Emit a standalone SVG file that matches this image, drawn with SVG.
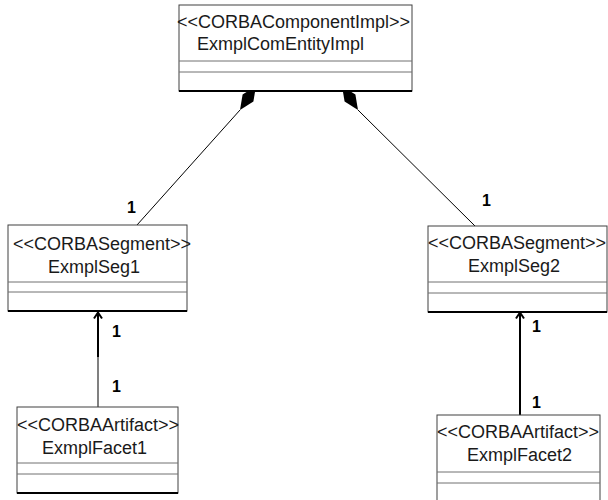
<svg xmlns="http://www.w3.org/2000/svg" width="608" height="500" viewBox="0 0 608 500">
<style>
.box{fill:#fff;stroke:#404040;stroke-width:1}
.sep{stroke:#707070;stroke-width:1}
.bot{stroke:#000;stroke-width:2}
.t{font-family:"Liberation Sans",Arial,sans-serif;font-size:18px;fill:#1a1a1a}
.m{font-family:"Liberation Sans",Arial,sans-serif;font-size:16px;font-weight:bold;fill:#000}
.c{stroke:#000;stroke-width:1;fill:none}
.a{stroke:#000;stroke-width:2;fill:none}
</style>
<g id="connectors">
<line class="c" x1="240" y1="110" x2="137" y2="225"/>
<line class="c" x1="358" y1="110" x2="475" y2="226"/>
<polygon points="256,86 253.4,101.6 240,110 242.6,94.4" fill="#000"/>
<polygon points="342,86 344.6,101.6 358,110 355.4,94.4" fill="#000"/>
<line x1="98" y1="357" x2="98" y2="407" stroke="#808080" stroke-width="2"/>
<line class="a" x1="98" y1="313" x2="98" y2="357"/>
<polyline class="a" points="94,318.5 98,312.5 102,318.5"/>
<line class="a" x1="520" y1="313" x2="520" y2="415"/>
<polyline class="a" points="516,318.5 520,312.5 524,318.5"/>
<text class="m" x="127" y="213">1</text>
<text class="m" x="482" y="206">1</text>
<text class="m" x="112" y="337">1</text>
<text class="m" x="112" y="392">1</text>
<text class="m" x="532" y="332">1</text>
<text class="m" x="532" y="408">1</text>
</g>
<g id="ExmplComEntityImpl">
<rect class="box" x="179" y="5" width="233" height="86"/>
<line class="sep" x1="179" y1="61" x2="412" y2="61"/>
<line class="sep" x1="179" y1="72" x2="412" y2="72"/>
<line class="bot" x1="179" y1="91" x2="412" y2="91"/>
<text class="t" x="177" y="28">&lt;&lt;CORBAComponentImpl&gt;&gt;</text>
<text class="t" x="197" y="50">ExmplComEntityImpl</text>
</g>
<g id="ExmplSeg1">
<rect class="box" x="8" y="225" width="179" height="86"/>
<line class="sep" x1="8" y1="282" x2="187" y2="282"/>
<line class="sep" x1="8" y1="292" x2="187" y2="292"/>
<line class="bot" x1="8" y1="311" x2="187" y2="311"/>
<text class="t" x="13" y="250">&lt;&lt;CORBASegment&gt;&gt;</text>
<text class="t" x="48" y="273">ExmplSeg1</text>
</g>
<g id="ExmplSeg2">
<rect class="box" x="428" y="226" width="179" height="86"/>
<line class="sep" x1="428" y1="282" x2="607" y2="282"/>
<line class="sep" x1="428" y1="293" x2="607" y2="293"/>
<line class="bot" x1="428" y1="312" x2="607" y2="312"/>
<text class="t" x="428" y="249">&lt;&lt;CORBASegment&gt;&gt;</text>
<text class="t" x="468" y="272">ExmplSeg2</text>
</g>
<g id="ExmplFacet1">
<rect class="box" x="17" y="407" width="161" height="86"/>
<line class="sep" x1="17" y1="463" x2="178" y2="463"/>
<line class="sep" x1="17" y1="474" x2="178" y2="474"/>
<line class="bot" x1="17" y1="493" x2="178" y2="493"/>
<text class="t" x="17" y="431">&lt;&lt;CORBAArtifact&gt;&gt;</text>
<text class="t" x="42" y="454">ExmplFacet1</text>
</g>
<g id="ExmplFacet2">
<rect class="box" x="437" y="415" width="163" height="87"/>
<line class="sep" x1="437" y1="472" x2="600" y2="472"/>
<line class="sep" x1="437" y1="483" x2="600" y2="483"/>
<text class="t" x="437" y="438">&lt;&lt;CORBAArtifact&gt;&gt;</text>
<text class="t" x="467" y="461">ExmplFacet2</text>
</g>
</svg>
